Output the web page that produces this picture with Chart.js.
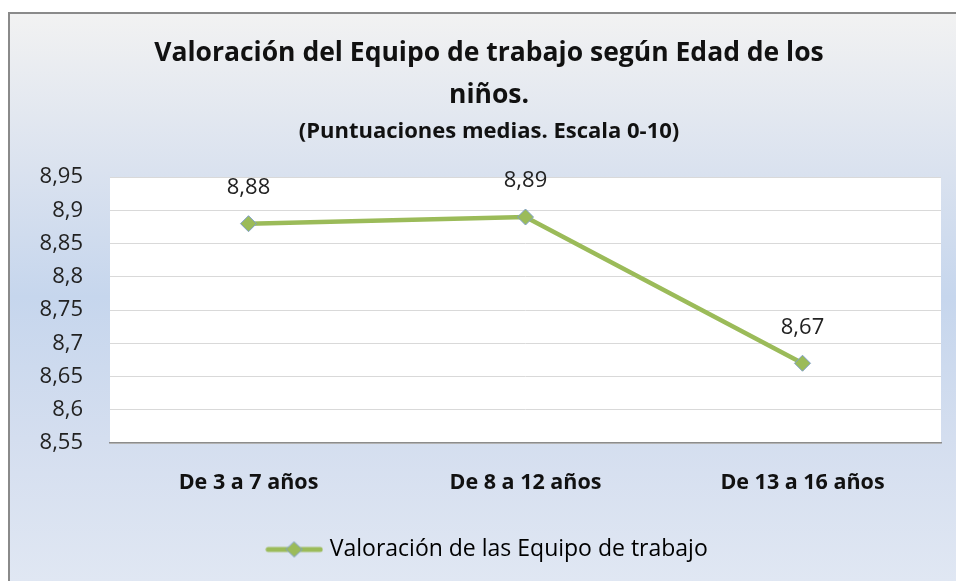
<!DOCTYPE html>
<html>
<head>
<meta charset="utf-8">
<script src="https://cdn.jsdelivr.net/npm/chart.js@4"></script>
<style>
  html, body { margin: 0; padding: 0; background: #fff; }
  #wrap { width: 956px; height: 581px; }
</style>
</head>
<body>
<div id="wrap"><canvas id="chart" width="956" height="581"></canvas></div>
<script>
const categories = ['De 3 a 7 años', 'De 8 a 12 años', 'De 13 a 16 años'];
const scores = [8.88, 8.89, 8.67];
const seriesName = 'Valoración de las Equipo de trabajo';
const titleLines = ['Valoración del Equipo de trabajo según Edad de los', 'niños.'];
const subtitleText = '(Puntuaciones medias. Escala 0-10)';
const yMin = 8.55, yMax = 8.95, yStep = 0.05;

const green = '#9bbb59';
const markerEdge = '#7f9fc9';
const fontFamily = '"Open Sans", "Noto Sans", sans-serif';

function comma(v) {
  return String(Math.round(v * 100) / 100).replace('.', ',');
}

// legend symbol: line with a diamond in the middle
function legendSymbol() {
  const c = document.createElement('canvas');
  c.width = 58; c.height = 18;
  const g = c.getContext('2d');
  g.strokeStyle = green; g.lineWidth = 5; g.lineCap = 'round';
  g.beginPath(); g.moveTo(3, 9); g.lineTo(55, 9); g.stroke();
  g.fillStyle = green; g.strokeStyle = markerEdge; g.lineWidth = 1;
  g.beginPath(); g.moveTo(29, 1.5); g.lineTo(37, 9); g.lineTo(29, 16.5); g.lineTo(21, 9); g.closePath();
  g.fill(); g.stroke();
  return c;
}

const backdrop = {
  id: 'backdrop',
  beforeDraw(chart) {
    const { ctx, width, height, chartArea: a } = chart;
    ctx.save();
    ctx.fillStyle = '#fff';
    ctx.fillRect(0, 0, width, height);
    const grad = ctx.createLinearGradient(0, 12, 0, height);
    grad.addColorStop(0, '#f2f2f2');
    grad.addColorStop(0.28, '#dae2ef');
    grad.addColorStop(0.5, '#c6d6ed');
    grad.addColorStop(0.75, '#d4deef');
    grad.addColorStop(1, '#e0e7f3');
    ctx.fillStyle = grad;
    ctx.fillRect(8, 12, width - 8, height - 12);
    ctx.strokeStyle = '#8a8a8a';
    ctx.lineWidth = 2;
    ctx.beginPath();
    ctx.moveTo(9, height); ctx.lineTo(9, 13); ctx.lineTo(width, 13);
    ctx.stroke();
    // plot area
    ctx.fillStyle = '#fff';
    ctx.fillRect(a.left, a.top, a.right - a.left, a.bottom - a.top);
    ctx.restore();
  }
};

const pointLabels = {
  id: 'pointLabels',
  afterDatasetsDraw(chart) {
    const { ctx } = chart;
    const meta = chart.getDatasetMeta(0);
    ctx.save();
    ctx.font = '22px ' + fontFamily;
    ctx.fillStyle = '#222';
    ctx.textAlign = 'center';
    ctx.textBaseline = 'middle';
    meta.data.forEach((pt, i) => {
      ctx.fillText(comma(scores[i]), pt.x, pt.y - 36);
    });
    ctx.restore();
  }
};

new Chart(document.getElementById('chart'), {
  type: 'line',
  data: {
    labels: categories,
    datasets: [{
      label: seriesName,
      data: scores,
      borderColor: green,
      borderWidth: 4.5,
      backgroundColor: green,
      pointStyle: 'rectRot',
      pointRadius: 8,
      pointBorderColor: markerEdge,
      pointBorderWidth: 1,
      pointBackgroundColor: green,
      tension: 0
    }]
  },
  options: {
    responsive: false,
    animation: false,
    events: [],
    layout: { padding: { left: 37, top: 12, right: 15, bottom: 10 } },
    scales: {
      x: {
        offset: true,
        grid: { display: false, drawTicks: false },
        border: { color: '#8c8c8c', width: 1.5 },
        ticks: { color: '#111', padding: 27, font: { family: fontFamily, size: 21.5, weight: 'bold' } },
        afterFit(s) { s.height = 81; }
      },
      y: {
        min: yMin,
        max: yMax,
        grid: { color: '#d9d9d9', drawTicks: false },
        border: { display: false },
        ticks: {
          stepSize: yStep,
          color: '#222',
          padding: 27,
          font: { family: fontFamily, size: 22 },
          callback: v => comma(v)
        },
        afterFit(s) { s.width = 73; }
      }
    },
    plugins: {
      title: {
        display: true,
        text: titleLines,
        color: '#111',
        font: { family: fontFamily, size: 26.5, weight: 'bold', lineHeight: 1.58 },
        padding: { top: 21, bottom: 0 }
      },
      subtitle: {
        display: true,
        text: subtitleText,
        color: '#111',
        font: { family: fontFamily, size: 22, weight: 'bold', lineHeight: 1.2 },
        padding: { top: 2, bottom: 32 }
      },
      legend: {
        position: 'bottom',
        labels: {
          color: '#222',
          font: { family: fontFamily, size: 23 },
          usePointStyle: true,
          pointStyleWidth: 48,
          boxHeight: 18,
          padding: 14,
          generateLabels: chart => [{
            text: seriesName,
            pointStyle: legendSymbol(),
            fillStyle: green,
            strokeStyle: green,
            lineWidth: 0,
            datasetIndex: 0
          }]
        }
      },
      tooltip: { enabled: false }
    }
  },
  plugins: [backdrop, pointLabels]
});
</script>
</body>
</html>
